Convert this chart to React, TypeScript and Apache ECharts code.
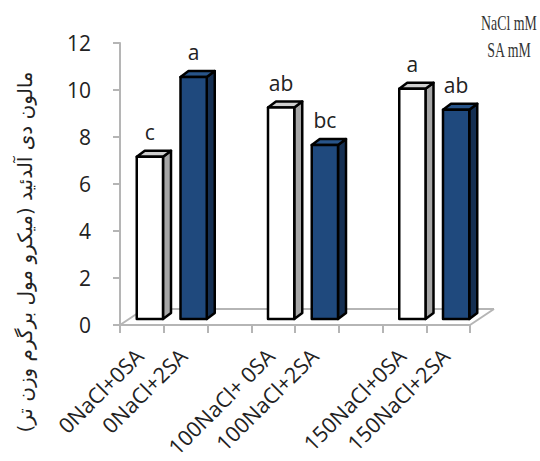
import React, { useEffect, useRef } from "react";
import * as echarts from "echarts";

// Categories (blank slots separate the three NaCl groups)
const categories = [
  "0NaCl+0SA",
  "0NaCl+2SA",
  "",
  "100NaCl+ 0SA",
  "100NaCl+2SA",
  " ",
  "150NaCl+0SA",
  "150NaCl+2SA",
];
const barSlots = [0, 1, 3, 4, 6, 7];
const mdaValues = [6.9, 10.3, 9.0, 7.4, 9.8, 8.9];
const sigLetters = ["c", "a", "ab", "bc", "a", "ab"];
const saTreatment = ["0SA", "2SA", "0SA", "2SA", "0SA", "2SA"];
const yMin = 0;
const yMax = 12;
const yStep = 2;
const yTitle = "مالون دی آلدئید (میکرو مول برگرم وزن تر)";
const legendLines = ["NaCl mM", "SA mM"];

const palette: Record<string, { front: string; side: string; top: string }> = {
  "0SA": { front: "#ffffff", side: "#a6a6a6", top: "#cfcfcf" },
  "2SA": { front: "#1f497d", side: "#152f52", top: "#285489" },
};

export default function App() {
  const ref = useRef<HTMLDivElement>(null);
  useEffect(() => {
    document.body.style.margin = "0";
    if (!ref.current) return;
    const chart = echarts.init(ref.current, undefined, { renderer: "svg" });
    const data = barSlots.map((s, i) => [s, mdaValues[i]]);
    const dx = 8;
    const dy = -6;
    const legendStyle = {
      fontSize: 21,
      fontFamily: "Liberation Serif",
      fill: "#333333",
      align: "center",
      verticalAlign: "middle",
    };
    chart.setOption({
      animation: false,
      backgroundColor: "#ffffff",
      grid: {
        left: 120,
        right: 70,
        top: 43,
        bottom: 136,
        containLabel: false,
        outerBoundsMode: "none",
      },
      xAxis: {
        type: "category",
        data: categories,
        axisLine: { show: true, lineStyle: { color: "#b5b5b5", width: 2 } },
        axisTick: { show: true, length: 8, lineStyle: { color: "#b5b5b5", width: 2 } },
        axisLabel: {
          interval: 0,
          rotate: 45,
          fontSize: 21.5,
          fontFamily: "Open Sans",
          color: "#222222",
          margin: 24,
          padding: [0, 4, 0, 0],
        },
      },
      yAxis: {
        type: "value",
        min: yMin,
        max: yMax,
        interval: yStep,
        axisLine: { show: true, lineStyle: { color: "#b5b5b5", width: 2 } },
        axisTick: { show: true, length: 7, lineStyle: { color: "#b5b5b5", width: 2 } },
        splitLine: { show: false },
        axisLabel: {
          fontSize: 21,
          fontFamily: "Open Sans",
          color: "#222222",
          margin: 29,
        },
      },
      graphic: [
        { type: "line", z: 0, shape: { x1: 120, y1: 325, x2: 144, y2: 309 }, style: { stroke: "#b5b5b5", lineWidth: 2 } },
        { type: "line", z: 0, shape: { x1: 144, y1: 309, x2: 494, y2: 309 }, style: { stroke: "#b5b5b5", lineWidth: 2 } },
        { type: "line", z: 0, shape: { x1: 470, y1: 325, x2: 494, y2: 309 }, style: { stroke: "#b5b5b5", lineWidth: 2 } },
        {
          type: "text",
          x: 25,
          y: 252,
          rotation: Math.PI / 2,
          style: {
            text: yTitle,
            fontSize: 20,
            fontFamily: "DejaVu Sans",
            fill: "#222222",
            align: "center",
            verticalAlign: "middle",
          },
        },
        { type: "text", x: 509, y: 23, scaleX: 0.66, style: { text: legendLines[0], ...legendStyle } },
        { type: "text", x: 509, y: 50, scaleX: 0.66, style: { text: legendLines[1], ...legendStyle } },
      ],
      series: [
        {
          type: "custom",
          z: 10,
          data,
          renderItem: (params: any, api: any) => {
            const k = params.dataIndex;
            const slot = api.value(0);
            const v = api.value(1);
            const base = api.coord([slot, 0]);
            const top = api.coord([slot, v]);
            const bw = api.size([1, 0])[0] * 0.6;
            const x0 = base[0] - bw / 2 + dx;
            const x1 = x0 + bw;
            const yb = base[1] + dy;
            const yt = top[1] + dy;
            const col = palette[saTreatment[k]];
            const stroke = { stroke: "#000000", lineWidth: 2.5, lineJoin: "round" };
            return {
              type: "group",
              children: [
                {
                  type: "polygon",
                  shape: { points: [[x1, yt], [x1 + dx, yt + dy], [x1 + dx, yb + dy], [x1, yb]] },
                  style: { fill: col.side, ...stroke },
                },
                {
                  type: "polygon",
                  shape: { points: [[x0, yt], [x0 + dx, yt + dy], [x1 + dx, yt + dy], [x1, yt]] },
                  style: { fill: col.top, ...stroke },
                },
                {
                  type: "rect",
                  shape: { x: x0, y: yt, width: bw, height: yb - yt },
                  style: { fill: col.front, ...stroke },
                },
                {
                  type: "text",
                  style: {
                    text: sigLetters[k],
                    x: (x0 + x1) / 2,
                    y: yt - 25,
                    fontSize: 21,
                    fontFamily: "Open Sans",
                    fill: "#222222",
                    align: "center",
                    verticalAlign: "middle",
                  },
                },
              ],
            };
          },
        },
      ],
    });
    return () => chart.dispose();
  }, []);
  return <div ref={ref} style={{ width: 540, height: 461 }} />;
}
